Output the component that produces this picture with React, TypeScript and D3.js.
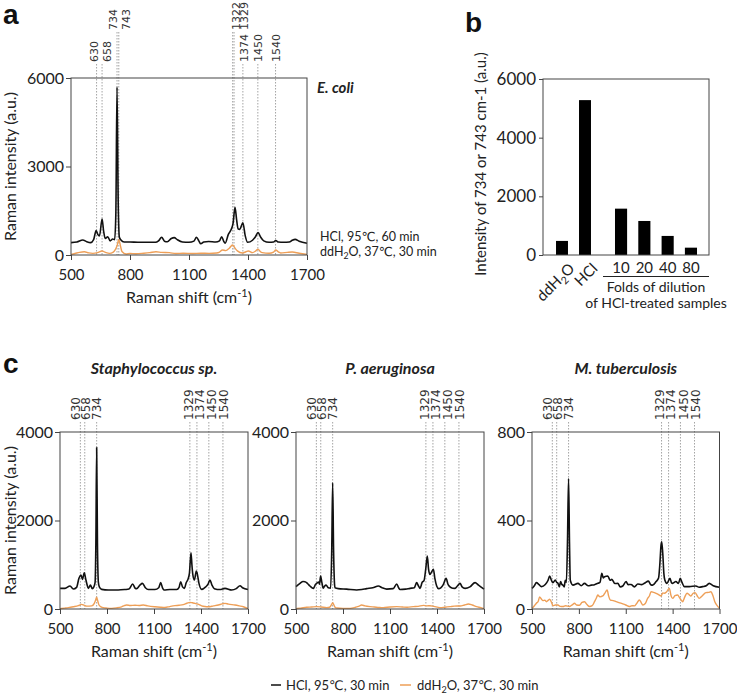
import React, { useRef, useEffect } from "react";
import * as d3 from "d3";

type Pt = [number, number];

// ---- data ----
const shiftTicks = [500, 800, 1100, 1400, 1700];
const peaksEcoli = [630, 658, 734, 743, 1322, 1329, 1374, 1450, 1540];
const peaksOther = [630, 658, 734, 1329, 1374, 1450, 1540];

const ecoliHcl: Pt[] = [
  [500, 420], [530, 440], [560, 510], [580, 450], [600, 420], [615, 520], [628, 830], [636, 700],
  [645, 650], [658, 1220], [666, 800], [674, 560], [687, 620], [699, 480], [712, 540], [722, 520],
  [728, 1400], [734, 5690], [740, 1800], [746, 600], [754, 510], [770, 440], [800, 440], [840, 430],
  [880, 430], [930, 430], [945, 480], [961, 600], [975, 470], [990, 450], [1010, 560], [1025, 590],
  [1040, 520], [1067, 440], [1100, 430], [1125, 470], [1138, 600], [1150, 480], [1160, 380], [1175, 440],
  [1200, 460], [1236, 440], [1255, 480], [1266, 620], [1276, 470], [1284, 400], [1300, 700], [1315, 870],
  [1324, 1070], [1334, 1620], [1342, 1200], [1350, 880], [1358, 870], [1374, 1090], [1386, 650], [1398, 430],
  [1423, 500], [1438, 620], [1451, 760], [1465, 600], [1480, 480], [1507, 430], [1530, 440], [1541, 490],
  [1555, 440], [1580, 430], [1610, 440], [1625, 500], [1640, 530], [1660, 470], [1700, 400],
];
const ecoliWater: Pt[] = [
  [500, 20], [520, 50], [543, 90], [568, 110], [590, 70], [611, 55], [635, 80], [658, 135], [675, 90],
  [695, 55], [715, 100], [726, 190], [735, 330], [743, 530], [750, 350], [759, 120], [780, 35], [800, 50],
  [830, 40], [870, 60], [900, 80], [932, 110], [960, 90], [1000, 80], [1033, 50], [1070, 60], [1118, 50],
  [1160, 60], [1202, 55], [1240, 70], [1253, 90], [1270, 170], [1287, 150], [1305, 230], [1321, 340],
  [1333, 240], [1346, 140], [1372, 70], [1390, 110], [1402, 135], [1423, 80], [1440, 140], [1451, 200],
  [1462, 120], [1473, 80], [1507, 60], [1530, 100], [1541, 170], [1555, 100], [1566, 70], [1600, 90],
  [1625, 100], [1660, 60], [1700, 20],
];

const staphHcl: Pt[] = [
  [500, 467], [532, 467], [564, 520], [585, 452], [606, 490], [621, 693], [634, 770], [643, 670],
  [655, 820], [664, 680], [672, 560], [681, 467], [694, 540], [706, 460], [716, 500], [724, 600],
  [729, 1500], [734, 3650], [739, 1500], [745, 600], [751, 500], [766, 444], [809, 430], [872, 430],
  [915, 440], [940, 450], [964, 565], [980, 470], [989, 460], [1010, 540], [1026, 580], [1045, 480],
  [1064, 440], [1106, 440], [1130, 480], [1143, 595], [1155, 470], [1164, 430], [1202, 440], [1245, 440],
  [1260, 490], [1270, 617], [1282, 500], [1294, 467], [1306, 600], [1315, 655], [1326, 805], [1336, 1272],
  [1342, 1000], [1347, 800], [1358, 655], [1370, 860], [1376, 800], [1387, 580], [1404, 444], [1430, 500],
  [1445, 560], [1457, 655], [1470, 540], [1485, 460], [1521, 440], [1553, 467], [1596, 430], [1625, 460],
  [1649, 527], [1665, 480], [1700, 440],
];
const staphWater: Pt[] = [
  [500, 8], [530, 20], [553, 30], [585, 50], [617, 75], [638, 105], [655, 80], [670, 65], [702, 70],
  [719, 128], [727, 200], [734, 264], [741, 180], [749, 90], [762, 50], [777, 30], [800, 20], [830, 15],
  [860, 25], [894, 50], [910, 75], [925, 90], [950, 80], [979, 85], [1005, 80], [1032, 90], [1060, 70],
  [1106, 50], [1140, 40], [1170, 35], [1200, 55], [1234, 75], [1260, 85], [1287, 100], [1310, 130],
  [1330, 150], [1345, 140], [1362, 128], [1380, 110], [1404, 70], [1425, 55], [1447, 50], [1480, 70],
  [1511, 90], [1535, 115], [1553, 128], [1575, 110], [1617, 90], [1645, 70], [1670, 50], [1700, 8],
];

const paeruHcl: Pt[] = [
  [500, 505], [526, 580], [545, 620], [557, 617], [575, 570], [589, 520], [611, 467], [625, 560],
  [632, 580], [645, 610], [650, 560], [657, 745], [665, 600], [674, 470], [683, 520], [692, 540],
  [706, 480], [721, 470], [728, 1300], [734, 2850], [740, 1300], [746, 560], [749, 480], [770, 460],
  [823, 450], [887, 430], [920, 440], [951, 460], [990, 480], [1026, 520], [1050, 480], [1079, 450],
  [1120, 460], [1143, 565], [1155, 480], [1164, 440], [1200, 450], [1228, 467], [1255, 480], [1270, 595],
  [1282, 520], [1292, 467], [1305, 600], [1317, 640], [1328, 900], [1338, 1197], [1346, 900], [1355, 780],
  [1366, 840], [1377, 896], [1386, 700], [1398, 520], [1410, 460], [1424, 480], [1440, 550], [1458, 693],
  [1470, 560], [1483, 500], [1500, 470], [1515, 467], [1530, 520], [1547, 580], [1560, 500], [1579, 467],
  [1610, 500], [1643, 595], [1665, 540], [1700, 450],
];
const paeruWater: Pt[] = [
  [500, 8], [530, 20], [568, 38], [600, 45], [632, 53], [660, 45], [696, 30], [715, 40], [727, 100],
  [734, 143], [742, 90], [752, 30], [760, 23], [800, 15], [845, 15], [880, 40], [900, 60], [919, 90],
  [940, 70], [972, 53], [1000, 45], [1030, 35], [1057, 30], [1100, 45], [1143, 53], [1180, 45], [1210, 40],
  [1249, 53], [1280, 60], [1313, 83], [1335, 70], [1355, 75], [1380, 60], [1419, 30], [1450, 40],
  [1483, 53], [1510, 65], [1547, 68], [1575, 90], [1600, 113], [1625, 90], [1653, 53], [1680, 30], [1700, 8],
];

const mtbHcl: Pt[] = [
  [500, 93], [515, 105], [528, 119], [545, 110], [560, 101], [585, 111], [603, 130], [613, 149],
  [624, 130], [634, 119], [649, 131], [658, 120], [666, 116], [675, 100], [683, 124], [692, 110],
  [698, 108], [706, 100], [713, 130], [720, 120], [727, 300], [734, 590], [740, 300], [745, 130],
  [762, 108], [794, 116], [815, 105], [836, 116], [860, 105], [879, 108], [900, 110], [921, 116],
  [935, 120], [947, 161], [956, 140], [964, 146], [985, 149], [1000, 130], [1011, 134], [1030, 115],
  [1049, 116], [1065, 100], [1081, 104], [1102, 124], [1115, 110], [1134, 111], [1155, 100], [1177, 113],
  [1200, 110], [1219, 116], [1245, 126], [1260, 110], [1272, 108], [1294, 124], [1310, 140], [1318, 200],
  [1326, 290], [1330, 304], [1337, 250], [1344, 160], [1350, 131], [1364, 116], [1383, 139], [1392, 120],
  [1400, 116], [1421, 124], [1437, 115], [1449, 139], [1460, 120], [1475, 101], [1507, 101], [1549, 104],
  [1570, 98], [1592, 101], [1615, 105], [1634, 116], [1660, 105], [1700, 98],
];
const mtbWater: Pt[] = [
  [500, 3], [510, 10], [528, 26], [540, 35], [549, 55], [560, 45], [570, 38], [582, 40], [592, 33],
  [605, 40], [613, 44], [625, 30], [634, 15], [650, 18], [666, 18], [680, 12], [698, 11], [715, 15],
  [740, 11], [760, 20], [772, 26], [785, 18], [804, 17], [820, 30], [836, 33], [852, 20], [868, 11],
  [885, 15], [900, 33], [912, 50], [921, 63], [935, 55], [953, 59], [965, 70], [981, 86], [990, 60],
  [1002, 40], [1020, 38], [1038, 33], [1060, 28], [1081, 23], [1100, 18], [1123, 11], [1140, 15],
  [1155, 14], [1170, 25], [1187, 41], [1198, 30], [1209, 18], [1225, 25], [1240, 48], [1252, 60],
  [1262, 78], [1278, 75], [1294, 71], [1310, 65], [1326, 59], [1337, 72], [1347, 71], [1362, 78],
  [1379, 93], [1390, 60], [1400, 48], [1415, 60], [1432, 63], [1445, 50], [1455, 40], [1464, 33],
  [1478, 55], [1492, 71], [1505, 65], [1517, 59], [1530, 70], [1543, 74], [1557, 60], [1570, 48],
  [1590, 60], [1613, 74], [1630, 75], [1645, 78], [1658, 60], [1670, 33], [1685, 15], [1700, 3],
];

const controlGroups = ["ddH2O", "HCl"];
const controlValues = [480, 5280];
const dilutionFolds = ["10", "20", "40", "80"];
const dilutionValues = [1580, 1160, 650, 250];

// ---- layout for the peak labels (px nudges so that close labels don't collide) ----
const ecoliNudge = [-2.6, 4.9, -3.8, 7.4, 3.3, 9.5, 1, 0, 0.5];
const ecoliRaised = [false, false, true, true, true, true, false, false, false];
const otherNudge = [-4.5, 1.3, 0, -1.6, 2.4, 2.9, 1.1];

const FONT = "Lato, 'Open Sans', 'DejaVu Sans', sans-serif";
const PEAK_FONT = "'DejaVu Sans', sans-serif";
const ORANGE = "#EE9F57";
const FRAME = "#444";

interface Box { l: number; r: number; t: number; b: number; }
type G = d3.Selection<SVGGElement, unknown, null, undefined>;

const text = (g: G, x: number, y: number, str: string, size: number, anchor = "start") =>
  g.append("text").attr("x", x).attr("y", y).attr("font-size", size).attr("text-anchor", anchor)
    .attr("fill", "#222").text(str);

// "ddH2O" with subscript 2
const h2o = (t: d3.Selection<SVGTextElement, unknown, null, undefined>, size: number, tail: string) => {
  t.append("tspan").text("ddH");
  t.append("tspan").attr("font-size", size * 0.7).attr("dy", size * 0.25).text("2");
  t.append("tspan").attr("dy", -size * 0.25).text("O" + tail);
};

const ramanTitle = (g: G, x: number, y: number) => {
  const t = text(g, x, y, "", 16, "middle");
  t.append("tspan").text("Raman shift (cm");
  t.append("tspan").attr("font-size", 11).attr("dy", -6).text("-1");
  t.append("tspan").attr("dy", 6).text(")");
};

function drawSpectrum(
  g: G, box: Box, yMax: number, yTicks: number[], black: Pt[], orange: Pt[],
  peaks: number[], nudges: number[], raised: boolean[], lowY: number, highY: number, labelSize: number
) {
  const x = d3.scaleLinear().domain([500, 1700]).range([box.l, box.r]);
  const y = d3.scaleLinear().domain([0, yMax]).range([box.b, box.t]);

  // dotted reference lines + rotated peak labels
  peaks.forEach((p, i) => {
    const base = raised[i] ? highY : lowY;
    g.append("line").attr("x1", x(p)).attr("x2", x(p)).attr("y1", base + 2).attr("y2", box.b)
      .attr("stroke", "#9a9a9a").attr("stroke-width", 0.9).attr("stroke-dasharray", "1.5,1.5");
    g.append("text").attr("transform", `translate(${x(p) + nudges[i]},${base}) rotate(-90)`)
      .attr("dy", "0.36em").attr("font-size", labelSize).attr("font-family", PEAK_FONT)
      .attr("fill", "#333").text(p);
  });

  const line = d3.line<Pt>().x(d => x(d[0])).y(d => y(d[1])).curve(d3.curveMonotoneX);
  g.append("path").datum(orange).attr("d", line).attr("fill", "none")
    .attr("stroke", ORANGE).attr("stroke-width", 1.4);
  g.append("path").datum(black).attr("d", line).attr("fill", "none")
    .attr("stroke", "#111").attr("stroke-width", 1.6).attr("stroke-linejoin", "round");

  g.append("rect").attr("x", box.l).attr("y", box.t).attr("width", box.r - box.l)
    .attr("height", box.b - box.t).attr("fill", "none").attr("stroke", FRAME);

  g.append("g").attr("transform", `translate(0,${box.b})`)
    .call(d3.axisBottom(x).tickValues(shiftTicks).tickSize(5).tickPadding(9).tickFormat(d3.format("d")))
    .call(a => a.select(".domain").remove())
    .call(a => a.selectAll("line").attr("stroke", FRAME))
    .call(a => a.selectAll("text").attr("font-size", 15).attr("fill", "#222"))
    .attr("font-family", null).attr("font-size", null);

  g.append("g").attr("transform", `translate(${box.l},0)`)
    .call(d3.axisLeft(y).tickValues(yTicks).tickSize(5).tickPadding(2).tickFormat(d3.format("d")))
    .call(a => a.select(".domain").remove())
    .call(a => a.selectAll("line").attr("stroke", FRAME))
    .call(a => a.selectAll("text").attr("font-size", 16).attr("fill", "#222"))
    .attr("font-family", null).attr("font-size", null);
}

const App = () => {
  const node = useRef<SVGSVGElement>(null);

  useEffect(() => {
    const svg = d3.select(node.current);
    svg.selectAll("*").remove();
    const g = svg.append("g") as unknown as G;

    // panel letters
    [["a", 3, 24], ["b", 465, 32], ["c", 3, 373]].forEach(([s, px, py]) =>
      g.append("text").attr("x", px).attr("y", py).attr("font-family", "'Liberation Sans', Arial, sans-serif")
        .attr("font-weight", "bold").attr("font-size", 28).attr("fill", "#111").text(s as string)
    );

    // ---- panel a ----
    const boxA = { l: 71, r: 307, t: 78, b: 255 };
    drawSpectrum(g, boxA, 6000, [0, 3000, 6000], ecoliHcl, ecoliWater,
      peaksEcoli, ecoliNudge, ecoliRaised, 62, 30, 11);
    text(g, 317, 93, "E. coli", 15).attr("font-weight", "bold").attr("font-style", "italic");
    text(g, 320, 241, "HCl, 95\u2103, 60 min", 12.5);
    h2o(text(g, 320, 256, "", 12.5), 12.5, ", 37\u2103, 30 min");
    text(g, 0, 0, "Raman intensity (a.u.)", 16, "middle")
      .attr("transform", `translate(16,${(boxA.t + boxA.b) / 2}) rotate(-90)`);
    ramanTitle(g, (boxA.l + boxA.r) / 2, 303);

    // ---- panel b ----
    const boxB = { l: 543, r: 709, t: 79, b: 255 };
    const yb = d3.scaleLinear().domain([0, 6000]).range([boxB.b, boxB.t]);
    const xCtrl = d3.scaleBand().domain(controlGroups).range([550.5, 596.5]).paddingInner(0.48).paddingOuter(0.24);
    const xDil = d3.scaleBand().domain(dilutionFolds).range([609.4, 702.6]).paddingInner(0.48).paddingOuter(0.24);

    g.append("g").selectAll("rect").data(controlGroups).join("rect")
      .attr("x", d => xCtrl(d)!).attr("width", xCtrl.bandwidth())
      .attr("y", (_, i) => yb(controlValues[i])).attr("height", (_, i) => boxB.b - yb(controlValues[i]))
      .attr("fill", "#000");
    g.append("g").selectAll("rect").data(dilutionFolds).join("rect")
      .attr("x", d => xDil(d)!).attr("width", xDil.bandwidth())
      .attr("y", (_, i) => yb(dilutionValues[i])).attr("height", (_, i) => boxB.b - yb(dilutionValues[i]))
      .attr("fill", "#000");

    g.append("rect").attr("x", boxB.l).attr("y", boxB.t).attr("width", boxB.r - boxB.l)
      .attr("height", boxB.b - boxB.t).attr("fill", "none").attr("stroke", FRAME);
    g.append("g").attr("transform", `translate(${boxB.l},0)`)
      .call(d3.axisLeft(yb).tickValues([0, 2000, 4000, 6000]).tickSize(4).tickPadding(3).tickFormat(d3.format("d")))
      .call(a => a.select(".domain").remove())
      .call(a => a.selectAll("line").attr("stroke", FRAME))
      .call(a => a.selectAll("text").attr("font-size", 17).attr("fill", "#222"))
      .attr("font-family", null).attr("font-size", null);

    text(g, 0, 0, "Intensity of 734 or 743 cm-1 (a.u.)", 15, "middle")
      .attr("transform", `translate(486,${(boxB.t + boxB.b) / 2 - 3}) rotate(-90)`);

    const c0 = xCtrl("ddH2O")! + xCtrl.bandwidth() / 2;
    const c1 = xCtrl("HCl")! + xCtrl.bandwidth() / 2;
    h2o(text(g, 0, 0, "", 15, "end").attr("transform", `translate(${c0 + 6},${boxB.b + 7}) rotate(-45)`)
      .attr("dy", "0.7em"), 15, "");
    text(g, 0, 0, "HCl", 15, "end").attr("transform", `translate(${c1 + 6},${boxB.b + 7}) rotate(-45)`)
      .attr("dy", "0.7em");
    dilutionFolds.forEach(f => text(g, xDil(f)! + xDil.bandwidth() / 2, 273, f, 15, "middle"));
    g.append("line").attr("x1", 603).attr("x2", boxB.r).attr("y1", 276.5).attr("y2", 276.5)
      .attr("stroke", "#222");
    text(g, 656, 292, "Folds of dilution", 14, "middle");
    text(g, 656, 308, "of HCl-treated samples", 14, "middle");

    // ---- panel c ----
    const cBoxes: Box[] = [
      { l: 60, r: 248, t: 432, b: 609 },
      { l: 296, r: 484, t: 432, b: 609 },
      { l: 532, r: 719.5, t: 432, b: 609 },
    ];
    const cTitles = ["Staphylococcus sp.", "P. aeruginosa", "M. tuberculosis"];
    const cMax = [4000, 4000, 800];
    const cTicks = [[0, 2000, 4000], [0, 2000, 4000], [0, 400, 800]];
    const cBlack = [staphHcl, paeruHcl, mtbHcl];
    const cOrange = [staphWater, paeruWater, mtbWater];
    const noRaise = peaksOther.map(() => false);

    cBoxes.forEach((b, i) => {
      drawSpectrum(g, b, cMax[i], cTicks[i], cBlack[i], cOrange[i],
        peaksOther, otherNudge, noRaise, 420, 420, 12);
      text(g, (b.l + b.r) / 2, 374, cTitles[i], 16, "middle")
        .attr("font-weight", "bold").attr("font-style", "italic");
      ramanTitle(g, (b.l + b.r) / 2, 657);
    });
    text(g, 0, 0, "Raman intensity (a.u.)", 16, "middle")
      .attr("transform", `translate(16,${(cBoxes[0].t + cBoxes[0].b) / 2}) rotate(-90)`);

    // legend
    g.append("line").attr("x1", 271).attr("x2", 281).attr("y1", 685).attr("y2", 685)
      .attr("stroke", "#111").attr("stroke-width", 1.5);
    text(g, 286, 689.5, "HCl, 95\u2103, 30 min", 13);
    g.append("line").attr("x1", 400).attr("x2", 411).attr("y1", 685).attr("y2", 685)
      .attr("stroke", ORANGE).attr("stroke-width", 1.5);
    h2o(text(g, 417, 689.5, "", 13), 13, ", 37\u2103, 30 min");
  }, []);

  return (
    <svg
      ref={node}
      width={737}
      height={695}
      fontFamily={FONT}
      style={{ position: "absolute", left: 0, top: 0, background: "#fff" }}
    />
  );
};

export default App;
